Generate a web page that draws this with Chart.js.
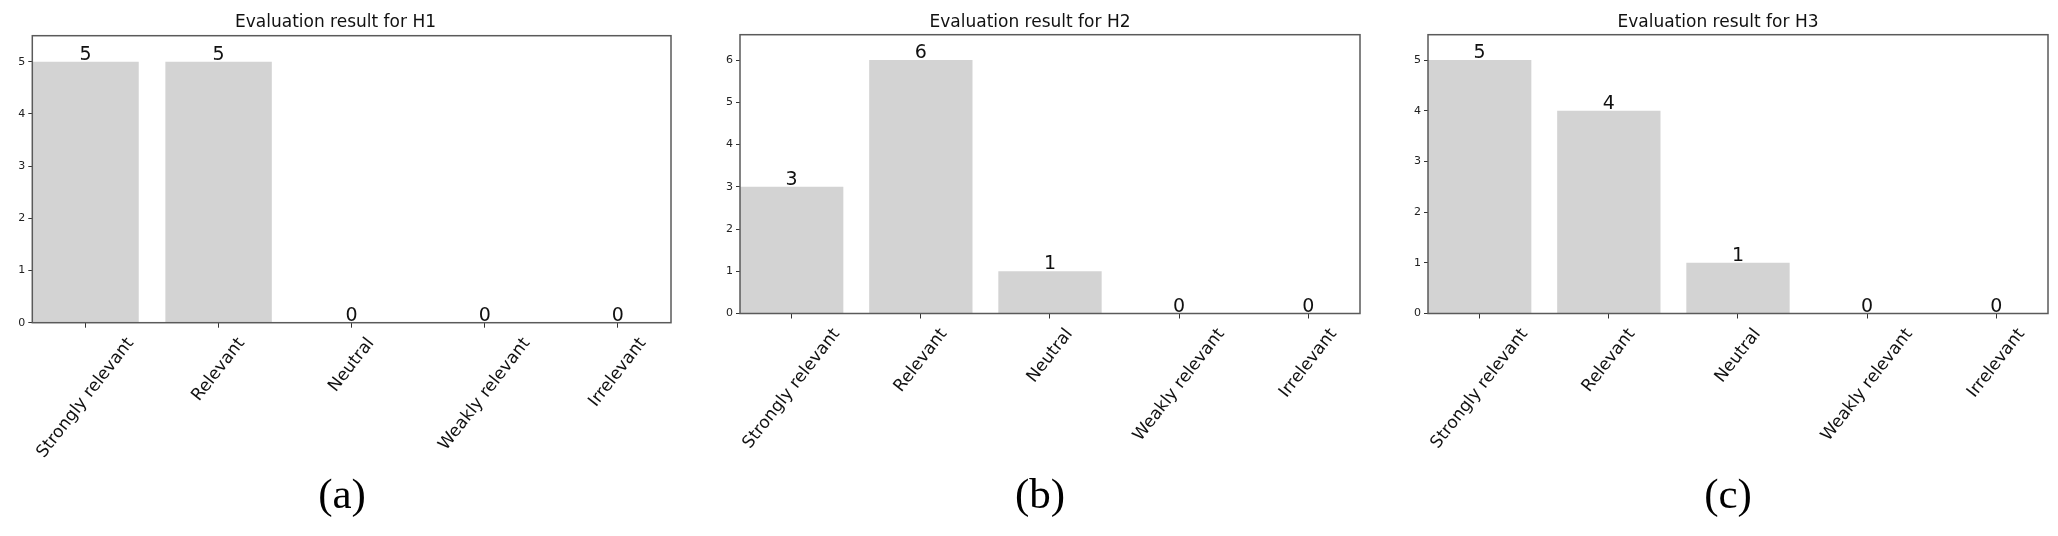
<!DOCTYPE html>
<html>
<head>
<meta charset="utf-8">
<script src="https://cdn.jsdelivr.net/npm/chart.js@4.4.1/dist/chart.umd.min.js"></script>
<style>
  html, body { margin: 0; padding: 0; background: #fff; }
  body { width: 2058px; height: 536px; position: relative; overflow: hidden; }
  canvas { position: absolute; top: 0; }
  .tag { position: absolute; top: 472px; font: 43px/43px "Liberation Serif", serif; color: #000; transform: translateX(-50%); white-space: nowrap; }
</style>
</head>
<body>
<canvas id="chartH1" width="680" height="536" style="left:0px"></canvas>
<canvas id="chartH2" width="670" height="536" style="left:700px"></canvas>
<canvas id="chartH3" width="670" height="536" style="left:1388px"></canvas>
<div class="tag" style="left:342px">(a)</div>
<div class="tag" style="left:1040px">(b)</div>
<div class="tag" style="left:1728px">(c)</div>
<script>
// data
const categories = ['Strongly relevant', 'Relevant', 'Neutral', 'Weakly relevant', 'Irrelevant'];
const titles = ['Evaluation result for H1', 'Evaluation result for H2', 'Evaluation result for H3'];
const h1Values = [5, 5, 0, 0, 0];
const h2Values = [3, 6, 1, 0, 0];
const h3Values = [5, 4, 1, 0, 0];
const yMaxes = [5.5, 6.6, 5.5];

const FONT = 'DejaVu Sans';
const LABEL_ANGLE = 52;

// count above every bar
const barValues = {
  id: 'barValues',
  afterDatasetsDraw(chart) {
    const { ctx } = chart;
    const meta = chart.getDatasetMeta(0);
    const ds = chart.data.datasets[0].data;
    ctx.save();
    ctx.font = '19px ' + FONT;
    ctx.fillStyle = '#111';
    ctx.textAlign = 'center';
    ctx.textBaseline = 'alphabetic';
    meta.data.forEach((bar, i) => {
      ctx.fillText(String(ds[i].y), bar.x, bar.y - 2);
    });
    ctx.restore();
  }
};

// rotated category names, box centred under each tick (matplotlib style)
const catLabels = {
  id: 'catLabels',
  afterDraw(chart) {
    const { ctx, scales: { x } } = chart;
    const th = LABEL_ANGLE * Math.PI / 180;
    const h = 17 * 1.17;
    ctx.save();
    ctx.font = '17px ' + FONT;
    ctx.fillStyle = '#111';
    ctx.textAlign = 'center';
    ctx.textBaseline = 'middle';
    categories.forEach((name, i) => {
      const px = x.getPixelForValue(i);
      const w = ctx.measureText(name).width;
      const boxH = w * Math.sin(th) + h * Math.cos(th);
      const cy = x.top + 11.5 + boxH / 2;
      ctx.save();
      ctx.translate(px, cy);
      ctx.rotate(-th);
      ctx.fillText(name, 0, 0);
      ctx.restore();
    });
    ctx.restore();
  }
};

// box round the plot area
const frame = {
  id: 'frame',
  afterDraw(chart) {
    const { ctx, chartArea: a } = chart;
    ctx.save();
    ctx.strokeStyle = '#5a5a5a';
    ctx.lineWidth = 1.5;
    ctx.strokeRect(a.left, a.top, a.right - a.left, a.bottom - a.top);
    ctx.restore();
  }
};

function makeChart(id, title, values, yMax, box) {
  return new Chart(document.getElementById(id), {
    type: 'bar',
    data: {
      datasets: [{
        data: values.map((v, i) => ({ x: i, y: v })),
        backgroundColor: '#d3d3d3',
        borderWidth: 0,
        barPercentage: 0.8,
        categoryPercentage: 1.0
      }]
    },
    options: {
      responsive: false,
      animation: false,
      layout: { padding: { left: 0, right: box.padRight, top: 0, bottom: 0 } },
      plugins: {
        legend: { display: false },
        tooltip: { enabled: false },
        title: {
          display: true,
          text: title,
          color: '#111',
          font: { family: FONT, size: 17, weight: 'normal' },
          padding: { top: 12, bottom: box.titleBottom }
        }
      },
      scales: {
        x: {
          type: 'linear',
          min: -0.4,
          max: 4.4,
          offset: false,
          border: { display: false },
          grid: { offset: false, drawOnChartArea: false, drawTicks: true, tickLength: 5, tickColor: '#333' },
          ticks: {
            stepSize: 1,
            includeBounds: false,
            autoSkip: false,
            display: false
          },
          afterFit(scale) {
            scale.height = box.xHeight;
            scale.paddingLeft = 0;
            scale.paddingRight = 0;
          }
        },
        y: {
          min: 0,
          max: yMax,
          border: { display: false },
          grid: { drawOnChartArea: false, drawTicks: true, tickLength: 4, tickColor: '#333' },
          ticks: {
            stepSize: 1,
            includeBounds: false,
            padding: 3,
            color: '#222',
            font: { family: FONT, size: 11 }
          },
          afterFit(scale) {
            scale.width = box.yWidth;
            scale.paddingTop = 0;
            scale.paddingBottom = 0;
          }
        }
      }
    },
    plugins: [barValues, catLabels, frame]
  });
}

makeChart('chartH1', titles[0], h1Values, yMaxes[0], { yWidth: 32.3, padRight: 9, xHeight: 213.3, titleBottom: 3.3 });
makeChart('chartH2', titles[1], h2Values, yMaxes[1], { yWidth: 40, padRight: 10, xHeight: 222.5, titleBottom: 2.3 });
makeChart('chartH3', titles[2], h3Values, yMaxes[2], { yWidth: 40, padRight: 10, xHeight: 222.5, titleBottom: 2.3 });
</script>
</body>
</html>
